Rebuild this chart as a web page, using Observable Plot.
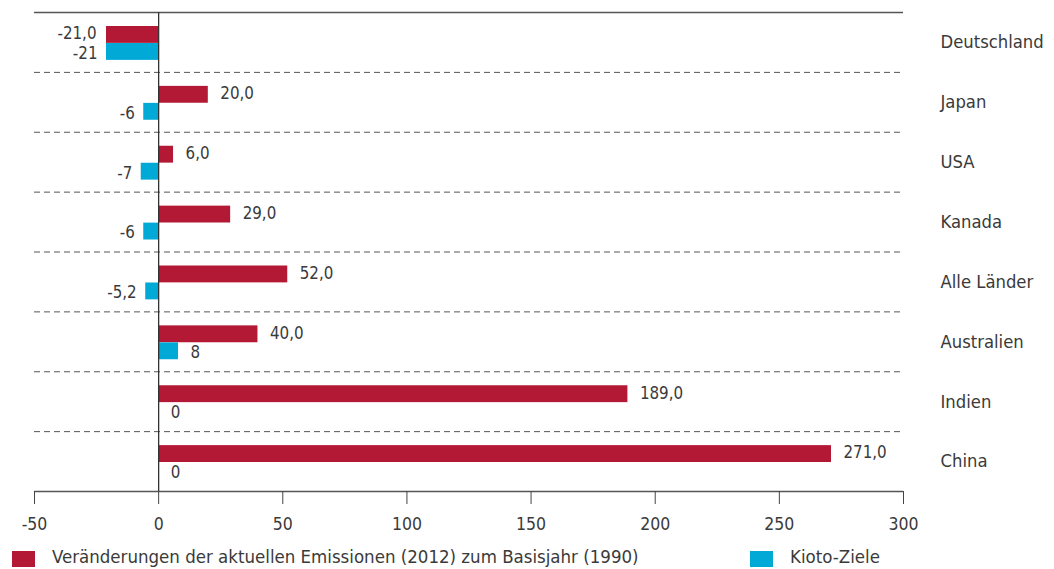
<!DOCTYPE html>
<html>
<head>
<meta charset="utf-8">
<script src="https://cdn.jsdelivr.net/npm/d3@7"></script>
<script src="https://cdn.jsdelivr.net/npm/@observablehq/plot@0.6"></script>
<style>
  body { margin: 0; background: #fff; font-family: "DejaVu Sans Condensed", "Liberation Sans Narrow", "DejaVu Sans", sans-serif; font-stretch: condensed; color: #333; }
  #wrap { position: relative; width: 1054px; }
  .legend { position: relative; height: 29px; font-size: 18.5px; color: #3a3a3a; }
  .legend .sw { position: absolute; top: 11px; width: 23px; height: 16px; }
  .legend .lb { position: absolute; top: 6px; white-space: nowrap; }
</style>
</head>
<body>
<div id="wrap">
  <div id="chart"></div>
  <div class="legend" id="legend"></div>
</div>
<script>
// Countries, top to bottom
const countries = ["Deutschland", "Japan", "USA", "Kanada", "Alle Länder", "Australien", "Indien", "China"];
// Change of current emissions (2012) against base year 1990, in percent
const emissions = [-21.0, 20.0, 6.0, 29.0, 52.0, 40.0, 189.0, 271.0];
// Kyoto targets, in percent
const kyoto = [-21, -6, -7, -6, -5.2, 8, 0, 0];
const xTicks = [-50, 0, 50, 100, 150, 200, 250, 300];

const seriesNames = ["Veränderungen der aktuellen Emissionen (2012) zum Basisjahr (1990)", "Kioto-Ziele"];
const colors = ["#b31835", "#00a9d6"];

const fmtDE = (v, digits) => (digits === null ? String(v) : v.toFixed(digits)).replace(".", ",");

const rows = countries.map((c, i) => ({country: c, emission: emissions[i], kyoto: kyoto[i]}));

const W = 1054, H = 540;
const mTop = 12, mBottom = 49, mLeft = 34, mRight = 151;
const bw = (H - mTop - mBottom) / countries.length;
const textColor = "#3a3a3a";
const valueSize = 16.8;

const chart = Plot.plot({
  width: W,
  height: H,
  marginTop: mTop,
  marginBottom: mBottom,
  marginLeft: mLeft,
  marginRight: mRight,
  style: {fontFamily: "DejaVu Sans Condensed, Liberation Sans Narrow, DejaVu Sans, sans-serif", fontSize: "16px", color: textColor, background: "#fff"},
  x: {domain: [-50, 300]},
  y: {type: "band", domain: countries, padding: 0, round: false},
  marks: [
    // group separators
    Plot.ruleY(countries.slice(1), {y: d => d, dy: -bw / 2, stroke: "#555", strokeWidth: 1, strokeDasharray: "6,4"}),
    // top and bottom frame lines
    Plot.ruleY([countries[0]], {y: d => d, dy: -bw / 2, stroke: "#555", strokeWidth: 1.3}),
    Plot.ruleY([countries[countries.length - 1]], {y: d => d, dy: bw / 2, stroke: "#555", strokeWidth: 1.3}),
    // bars
    Plot.barX(rows, {x: "emission", y: "country", fill: colors[0], insetTop: 14, insetBottom: 29}),
    Plot.barX(rows, {x: "kyoto", y: "country", fill: colors[1], insetTop: 31, insetBottom: 12}),
    // zero line
    Plot.ruleX([0], {stroke: "#333", strokeWidth: 1.3}),
    // value labels: emissions
    Plot.text(rows.filter(d => d.emission >= 0), {x: "emission", y: "country", text: d => fmtDE(d.emission, 1), textAnchor: "start", dx: 12, dy: -8.5, fill: textColor, fontSize: valueSize}),
    Plot.text(rows.filter(d => d.emission < 0), {x: "emission", y: "country", text: d => fmtDE(d.emission, 1), textAnchor: "end", dx: -10, dy: -8.5, fill: textColor, fontSize: valueSize}),
    // value labels: Kyoto targets
    Plot.text(rows.filter(d => d.kyoto >= 0), {x: "kyoto", y: "country", text: d => fmtDE(d.kyoto, null), textAnchor: "start", dx: 12, dy: 11, fill: textColor, fontSize: valueSize}),
    Plot.text(rows.filter(d => d.kyoto < 0), {x: "kyoto", y: "country", text: d => fmtDE(d.kyoto, null), textAnchor: "end", dx: -9, dy: 11, fill: textColor, fontSize: valueSize}),
    // axes
    Plot.axisY({anchor: "right", tickSize: 0, tickPadding: 37, label: null, fontSize: 18.3, fill: textColor}),
    Plot.axisX({ticks: xTicks, tickSize: 13, tickPadding: 13, tickFormat: d => String(d), label: null, stroke: "#444", fontSize: 17.5, fill: textColor})
  ]
});
document.getElementById("chart").appendChild(chart);

// legend below the chart
const legend = document.getElementById("legend");
const legendPos = [{sw: 12, lb: 52}, {sw: 750, lb: 790}];
seriesNames.forEach((name, i) => {
  const sw = document.createElement("div");
  sw.className = "sw";
  sw.style.left = legendPos[i].sw + "px";
  sw.style.background = colors[i];
  const lb = document.createElement("div");
  lb.className = "lb";
  lb.style.left = legendPos[i].lb + "px";
  lb.textContent = name;
  legend.appendChild(sw);
  legend.appendChild(lb);
});
</script>
</body>
</html>
